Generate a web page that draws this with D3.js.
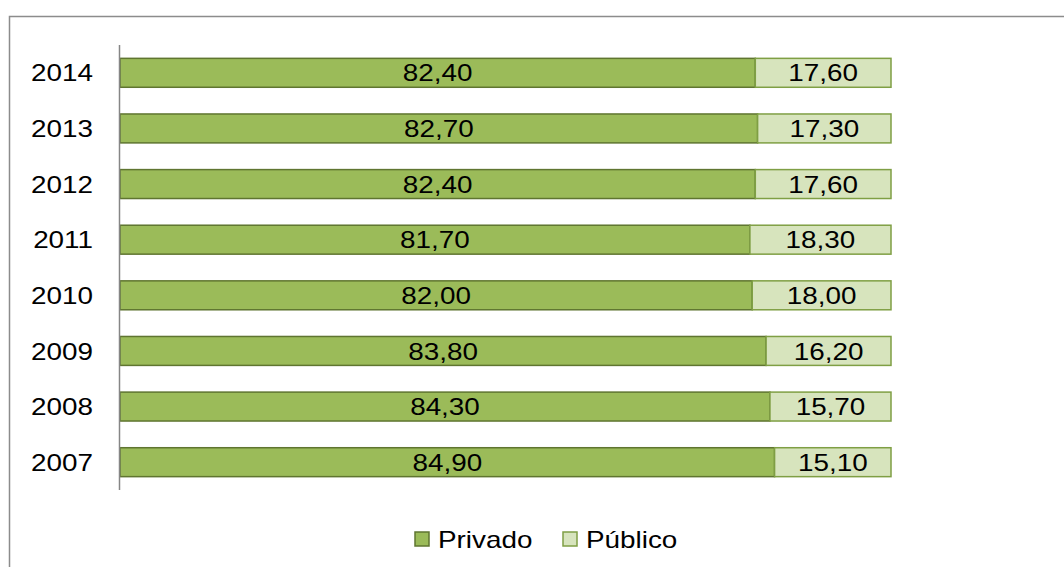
<!DOCTYPE html>
<html>
<head>
<meta charset="utf-8">
<script src="https://cdn.jsdelivr.net/npm/d3@7"></script>
<style>
  body { margin: 0; background: #fff; }
  svg { display: block; font-family: "Liberation Sans", Arial, sans-serif; }
</style>
</head>
<body>
<div id="chart"></div>
<script>
const years = ["2014", "2013", "2012", "2011", "2010", "2009", "2008", "2007"];
const privado = [82.4, 82.7, 82.4, 81.7, 82.0, 83.8, 84.3, 84.9];
const publico = [17.6, 17.3, 17.6, 18.3, 18.0, 16.2, 15.7, 15.1];
const seriesNames = ["Privado", "Público"];

const width = 1064, height = 567;
const svg = d3.select("#chart").append("svg")
  .attr("width", width)
  .attr("height", height);

// chart frame
svg.append("rect")
  .attr("x", 9.5).attr("y", 16.5)
  .attr("width", 1100).attr("height", 600)
  .attr("fill", "none")
  .attr("stroke", "#8c8c8c")
  .attr("stroke-width", 1.5);

const x = d3.scaleLinear().domain([0, 100]).range([120, 891]);
const y = d3.scaleBand().domain(years).range([45, 490]).paddingInner(0.48).paddingOuter(0.24);

const fills = ["#9bbb59", "#d7e4bd"];
const strokes = ["#5f7530", "#7f9f44"];
const fmt = v => v.toFixed(2).replace(".", ",");

// text in the original looks a bit stretched horizontally
const stretch = 1.16;
function label(px, py, str, anchor, size) {
  svg.append("text")
    .attr("transform", `translate(${px},${py}) scale(${stretch},1)`)
    .attr("dy", "0.36em")
    .attr("text-anchor", anchor)
    .attr("font-size", size)
    .attr("fill", "#000")
    .text(str);
}

const rows = years.map((yr, i) => ({ yr, vals: [privado[i], publico[i]] }));

rows.forEach(r => {
  let start = 0;
  r.vals.forEach((v, k) => {
    svg.append("rect")
      .attr("x", x(start))
      .attr("y", y(r.yr))
      .attr("width", x(start + v) - x(start))
      .attr("height", y.bandwidth())
      .attr("fill", fills[k])
      .attr("stroke", strokes[k])
      .attr("stroke-width", 1.5);
    label((x(start) + x(start + v)) / 2, y(r.yr) + y.bandwidth() / 2, fmt(v), "middle", 24);
    start += v;
  });
});

// y axis line + labels
svg.append("line")
  .attr("x1", 119.5).attr("x2", 119.5)
  .attr("y1", 45).attr("y2", 490)
  .attr("stroke", "#868686")
  .attr("stroke-width", 1.5);

years.forEach(d => label(93, y(d) + y.bandwidth() / 2, d, "end", 24));

// legend
const legendX = [415, 563];
seriesNames.forEach((name, k) => {
  svg.append("rect")
    .attr("x", legendX[k]).attr("y", 532)
    .attr("width", 14).attr("height", 14)
    .attr("fill", fills[k])
    .attr("stroke", strokes[k])
    .attr("stroke-width", 1.5);
  label(legendX[k] + 23, 539, name, "start", 24);
});
</script>
</body>
</html>
